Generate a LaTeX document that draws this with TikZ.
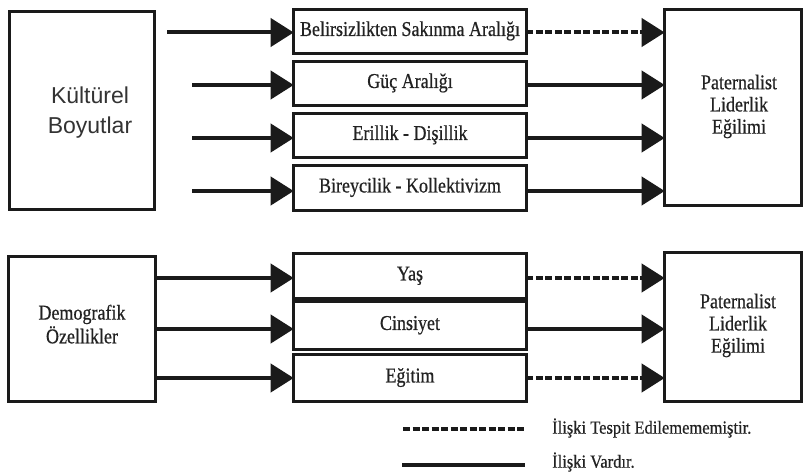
\documentclass[tikz,border=0pt]{standalone}
\usepackage{fontspec}
\setmainfont{Liberation Serif}
\newfontfamily\arialfont{Liberation Sans}
\newfontfamily\heavyserif[FakeBold=0.6]{Liberation Serif}
\usetikzlibrary{arrows.meta}
\definecolor{ink}{HTML}{1A1A1A}
\definecolor{txt}{HTML}{222222}
\definecolor{gtxt}{HTML}{333333}
\newcommand{\tallt}[1]{\scalebox{1}[1.17]{\begin{tabular}{@{}c@{}}#1\end{tabular}}}
\begin{document}
\begin{tikzpicture}[x=1pt,y=-1pt,
  box/.style={draw=ink,line width=3.4pt,inner sep=0pt,outer sep=0pt,
    font=\heavyserif\fontsize{18}{19}\selectfont,text=txt,align=center},
  lbl/.style={inner sep=0pt,font=\heavyserif\fontsize{18}{19}\selectfont,text=txt,align=center},
  arr/.style={draw=ink,line width=4pt,-{Triangle[length=23pt,width=28pt]}},
  dasharr/.style={arr,dash pattern=on 7pt off 2.5pt},
  legdash/.style={draw=ink,line width=4pt,dash pattern=on 7pt off 2.5pt},
  legsolid/.style={draw=ink,line width=4pt},
  legtext/.style={inner sep=0pt,anchor=west,font=\heavyserif\fontsize{16.5}{20}\selectfont,text=txt}]
\useasboundingbox (0,0) rectangle (805,473);
\fill[white] (0,0) rectangle (805,473);

% ---------- top group ----------
\node[box,minimum width=144.6pt,minimum height=197.6pt] (kb) at (82,110.5) {};
\node[inner sep=0pt,font=\arialfont\fontsize{23}{30}\selectfont,text=gtxt,align=center] (kbt) at (90,113) {Kültürel\\Boyutlar};

\node[box,minimum width=232.6pt,minimum height=43.6pt] (b1) at (410,31.5) {\tallt{Belirsizlikten Sakınma Aralığı}};
\node[box,minimum width=232.6pt,minimum height=43.6pt] (b2) at (410,83.5) {\tallt{Güç Aralığı}};
\node[box,minimum width=232.6pt,minimum height=43.6pt] (b3) at (410,135.5) {\tallt{Erillik - Dişillik}};
\node[box,minimum width=232.6pt,minimum height=44.6pt] (b4) at (410,188) {\tallt{Bireycilik - Kollektivizm}};

\node[box,minimum width=136.6pt,minimum height=195.6pt] (p1) at (733,107.5) {};
\node[lbl] (p1t) at (739,107) {\tallt{Paternalist\\Liderlik\\Eğilimi}};

\coordinate (a1) at (167,32.5);
\coordinate (a2) at (192,85);
\coordinate (a3) at (192,138);
\coordinate (a4) at (192,191);

\draw[arr] (a1) -- (b1.west |- a1);
\draw[arr] (a2) -- (b2.west |- a2);
\draw[arr] (a3) -- (b3.west |- a3);
\draw[arr] (a4) -- (b4.west |- a4);

\draw[dasharr] (b1.east |- a1) -- (p1.west |- a1);
\draw[arr] (b2.east |- a2) -- (p1.west |- a2);
\draw[arr] (b3.east |- a3) -- (p1.west |- a3);
\draw[arr] (b4.east |- a4) -- (p1.west |- a4);

% ---------- bottom group ----------
\node[box,minimum width=146.6pt,minimum height=144.6pt] (dm) at (82,329) {};
\node[lbl] (dmt) at (82,327) {\tallt{Demografik\\Özellikler}};

\node[box,minimum width=232.6pt,minimum height=44.6pt] (c1) at (410,276) {\tallt{Yaş}};
\node[box,minimum width=232.6pt,minimum height=47.6pt] (c2) at (410,325.5) {\tallt{Cinsiyet}};
\node[box,minimum width=232.6pt,minimum height=46.6pt] (c3) at (410,378) {\tallt{Eğitim}};

\node[box,minimum width=136.6pt,minimum height=148.6pt] (p2) at (733,327) {};
\node[lbl] (p2t) at (738,326) {\tallt{Paternalist\\Liderlik\\Eğilimi}};

\coordinate (d1) at (157,278);
\coordinate (d2) at (157,329);
\coordinate (d3) at (157,378);

\draw[arr] (dm.east |- d1) -- (c1.west |- d1);
\draw[arr] (dm.east |- d2) -- (c2.west |- d2);
\draw[arr] (dm.east |- d3) -- (c3.west |- d3);

\draw[dasharr] (c1.east |- d1) -- (p2.west |- d1);
\draw[arr] (c2.east |- d2) -- (p2.west |- d2);
\draw[dasharr] (c3.east |- d3) -- (p2.west |- d3);

% ---------- legend ----------
\coordinate (l1a) at (403,429);
\coordinate (l1b) at (525,429);
\coordinate (l2a) at (402,465);
\coordinate (l2b) at (525,465);
\draw[legdash] (l1a) -- (l1b);
\draw[legsolid] (l2a) -- (l2b);
\node[legtext] (lt1) at (552,428) {\scalebox{1}[1.12]{İlişki Tespit Edilemememiştir.}};
\node[legtext] (lt2) at (552,462) {\scalebox{1}[1.12]{İlişki Vardır.}};
\end{tikzpicture}
\end{document}
